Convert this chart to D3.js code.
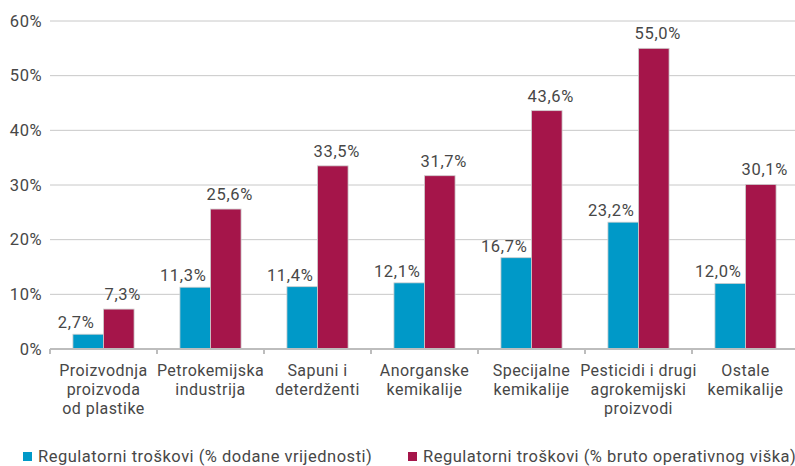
<!DOCTYPE html>
<html>
<head>
<meta charset="utf-8">
<script src="https://cdn.jsdelivr.net/npm/d3@7"></script>
<style>
  body { margin: 0; background: #fff; }
  text { font-family: Roboto, "Open Sans", sans-serif; fill: #474747; }
</style>
</head>
<body>
<div id="chart"></div>
<script>
// categories (multi-line labels)
var categories = [
  ["Proizvodnja", "proizvoda", "od plastike"],
  ["Petrokemijska", "industrija"],
  ["Sapuni i", "deterdženti"],
  ["Anorganske", "kemikalije"],
  ["Specijalne", "kemikalije"],
  ["Pesticidi i drugi", "agrokemijski", "proizvodi"],
  ["Ostale", "kemikalije"]
];
var seriesNames = [
  "Regulatorni troškovi (% dodane vrijednosti)",
  "Regulatorni troškovi (% bruto operativnog viška)"
];
var dodanaVrijednost = [2.7, 11.3, 11.4, 12.1, 16.7, 23.2, 12.0];
var brutoVisak = [7.3, 25.6, 33.5, 31.7, 43.6, 55.0, 30.1];
var yTicks = [0, 10, 20, 30, 40, 50, 60];
var colors = ["#0099c8", "#a5154a"];

var width = 795, height = 466;
var margin = {left: 50, right: -4, top: 21, bottom: 117};

var svg = d3.select("#chart").append("svg")
    .attr("width", width).attr("height", height);

var keys = categories.map(function(d, i) { return "c" + i; });

var x0 = d3.scaleBand()
    .domain(keys)
    .range([margin.left, width - margin.right]);

var x1 = d3.scaleBand()
    .domain([0, 1])
    .range([0, x0.bandwidth()])
    .paddingOuter(0.75);

var y = d3.scaleLinear()
    .domain([0, 60])
    .range([height - margin.bottom, margin.top]);

var fmt = function(v) { return v.toFixed(1).replace(".", ",") + "%"; };

// gridlines
svg.append("g")
    .selectAll("line")
    .data(yTicks.slice(1))
    .enter().append("line")
    .attr("x1", margin.left).attr("x2", width)
    .attr("y1", function(d) { return y(d); })
    .attr("y2", function(d) { return y(d); })
    .attr("stroke", "#c8c8c8").attr("stroke-width", 1);

// y labels
svg.append("g")
    .selectAll("text")
    .data(yTicks)
    .enter().append("text")
    .attr("x", 42)
    .attr("y", function(d) { return y(d); })
    .attr("dy", "0.35em")
    .attr("text-anchor", "end")
    .style("font-size", "16.5px")
    .style("letter-spacing", "0.5px")
    .text(function(d) { return d + "%"; });

// bars
var groups = svg.append("g")
    .selectAll("g")
    .data(keys)
    .enter().append("g")
    .attr("transform", function(d) { return "translate(" + x0(d) + ",0)"; });

var rows = [dodanaVrijednost, brutoVisak];
var labelShift = [-12, 4], labelGap = [6, 9];

groups.selectAll("rect")
    .data(function(d, i) { return rows.map(function(r, s) { return {s: s, v: r[i]}; }); })
    .enter().append("rect")
    .attr("x", function(d) { return x1(d.s); })
    .attr("width", x1.bandwidth())
    .attr("y", function(d) { return y(d.v); })
    .attr("height", function(d) { return y(0) - y(d.v); })
    .attr("fill", function(d) { return colors[d.s]; })
    .attr("stroke", "#cfcfcf")
    .attr("stroke-width", 0.8);

groups.selectAll("text.val")
    .data(function(d, i) { return rows.map(function(r, s) { return {s: s, v: r[i]}; }); })
    .enter().append("text")
    .attr("class", "val")
    .attr("x", function(d) { return x1(d.s) + x1.bandwidth() / 2 + labelShift[d.s]; })
    .attr("y", function(d) { return y(d.v) - labelGap[d.s]; })
    .attr("text-anchor", "middle")
    .style("font-size", "16.5px")
    .style("letter-spacing", "0.7px")
    .text(function(d) { return fmt(d.v); });

// x axis line + ticks
var axisY = y(0);
svg.append("line")
    .attr("x1", margin.left).attr("x2", width)
    .attr("y1", axisY).attr("y2", axisY)
    .attr("stroke", "#bdbdbd").attr("stroke-width", 2);

svg.append("g")
    .selectAll("line")
    .data(keys)
    .enter().append("line")
    .attr("x1", function(d) { return x0(d); })
    .attr("x2", function(d) { return x0(d); })
    .attr("y1", axisY).attr("y2", axisY + 5)
    .attr("stroke", "#bdbdbd").attr("stroke-width", 2);

// category labels, one text per line
var catLines = [];
categories.forEach(function(lines, i) {
    lines.forEach(function(line, j) { catLines.push({k: keys[i], j: j, t: line}); });
});

svg.append("g")
    .selectAll("text")
    .data(catLines)
    .enter().append("text")
    .attr("x", function(d) { return x0(d.k) + x0.bandwidth() / 2; })
    .attr("y", function(d) { return 376 + d.j * 19; })
    .attr("text-anchor", "middle")
    .style("font-size", "16px")
    .style("letter-spacing", "0.45px")
    .text(function(d) { return d.t; });

// legend
var legendX = [23, 408];
var legend = svg.append("g")
    .selectAll("g")
    .data(seriesNames)
    .enter().append("g")
    .attr("transform", function(d, i) { return "translate(" + legendX[i] + ",452)"; });

legend.append("rect")
    .attr("width", 9).attr("height", 9)
    .attr("fill", function(d, i) { return colors[i]; });

legend.append("text")
    .attr("x", 15).attr("y", 4.5)
    .attr("dy", "0.35em")
    .style("font-size", "16.5px")
    .style("letter-spacing", "0.5px")
    .text(function(d) { return d; });
</script>
</body>
</html>
